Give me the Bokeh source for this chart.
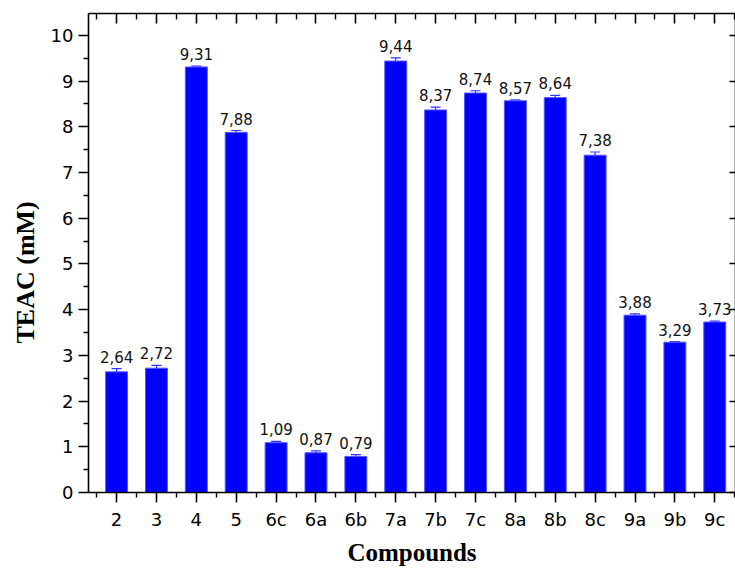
import math
from bokeh.plotting import figure
from bokeh.models import (ColumnDataSource, FixedTicker, LinearAxis, Range1d,
                          Whisker, Title, TeeHead)
from bokeh.core.properties import value
from bokeh.embed import file_html
from bokeh.resources import INLINE

compounds = ["2", "3", "4", "5", "6c", "6a", "6b", "7a", "7b", "7c",
             "8a", "8b", "8c", "9a", "9b", "9c"]
teac = [2.64, 2.72, 9.31, 7.88, 1.09, 0.87, 0.79, 9.44, 8.37, 8.74,
        8.57, 8.64, 7.38, 3.88, 3.29, 3.73]
err = [0.07, 0.06, 0.02, 0.04, 0.03, 0.04, 0.04, 0.07, 0.06, 0.05,
       0.02, 0.05, 0.07, 0.03, 0.01, 0.02]
y_ticks = [0, 1, 2, 3, 4, 5, 6, 7, 8, 9, 10]

xs = list(range(1, len(compounds) + 1))
labels = [f"{v:.2f}".replace(".", ",") for v in teac]
src = ColumnDataSource(dict(
    x=xs, top=teac, upper=[v + e for v, e in zip(teac, err)],
    lower=[v - e for v, e in zip(teac, err)], label=labels))

FONT = "DejaVu Sans"
SERIF = "Liberation Serif"

p = figure(width=735, height=569, output_backend="svg", toolbar_location=None,
           x_range=Range1d(0.296, 16.52), y_range=Range1d(0, 10.48),
           min_border_left=88, min_border_right=0, min_border_top=13,
           min_border_bottom=77, x_axis_location=None, y_axis_location=None)
p.grid.visible = False
p.outline_line_color = None
p.background_fill_color = "white"
p.border_fill_color = "white"

p.vbar(x="x", top="top", width=0.55, bottom=0, source=src,
       fill_color="#0000ff", line_color="#5555ff", line_width=1)
p.add_layout(Whisker(base="x", upper="upper", lower="lower", source=src,
                     line_color="#3333ff", line_width=1.2,
                     upper_head=TeeHead(size=10, line_color="#3333ff", line_width=1.2),
                     lower_head=None))
p.text(x="x", y="upper", text="label", source=src, y_offset=-6,
       text_align="center", text_baseline="bottom",
       text_font=value(FONT), text_font_size="15px", text_color="#111111")

x_minor = [i + 0.5 for i in range(0, len(compounds) + 1)]
y_minor = [i + 0.5 for i in range(0, 11)]
overrides = {i: c for i, c in zip(xs, compounds)}

def style(ax):
    ax.axis_line_width = 1.6
    ax.axis_line_color = "black"
    ax.major_tick_line_width = 1.6
    ax.minor_tick_line_width = 1.4
    ax.major_tick_line_color = "black"
    ax.minor_tick_line_color = "black"
    ax.major_label_text_font = FONT
    ax.major_label_text_font_size = "18px"
    ax.major_label_text_color = "black"

bottom = LinearAxis(ticker=FixedTicker(ticks=xs, minor_ticks=x_minor),
                    major_label_overrides=overrides)
style(bottom)
bottom.major_tick_out = 10
bottom.major_tick_in = 0
bottom.minor_tick_out = 5
bottom.minor_tick_in = 0
bottom.major_label_standoff = 6
bottom.axis_label = "Compounds"
bottom.axis_label_text_font = SERIF
bottom.axis_label_text_font_style = "bold"
bottom.axis_label_text_font_size = "25px"
bottom.axis_label_text_color = "black"
bottom.axis_label_standoff = 6
p.add_layout(bottom, "below")

top = LinearAxis(ticker=FixedTicker(ticks=xs, minor_ticks=x_minor),
                 major_label_overrides={i: "" for i in xs})
style(top)
top.major_tick_out = 0
top.major_tick_in = 10
top.minor_tick_out = 0
top.minor_tick_in = 6
top.major_label_standoff = 0
p.add_layout(top, "above")

left = LinearAxis(ticker=FixedTicker(ticks=y_ticks, minor_ticks=y_minor))
style(left)
left.major_tick_out = 10
left.major_tick_in = 0
left.minor_tick_out = 5
left.minor_tick_in = 0
left.major_label_standoff = 5
p.add_layout(left, "left")

right = LinearAxis(ticker=FixedTicker(ticks=y_ticks, minor_ticks=[]),
                   major_label_overrides={t: "" for t in y_ticks})
style(right)
right.major_tick_out = 0
right.major_tick_in = 6
right.major_label_standoff = 0
p.add_layout(right, "right")

p.add_layout(Title(text="TEAC (mM)", align="left", offset=149, standoff=16,
                   text_font=SERIF, text_font_style="bold",
                   text_font_size="26px", text_color="black"), "left")

open("out.html", "w").write(file_html(p, INLINE))
